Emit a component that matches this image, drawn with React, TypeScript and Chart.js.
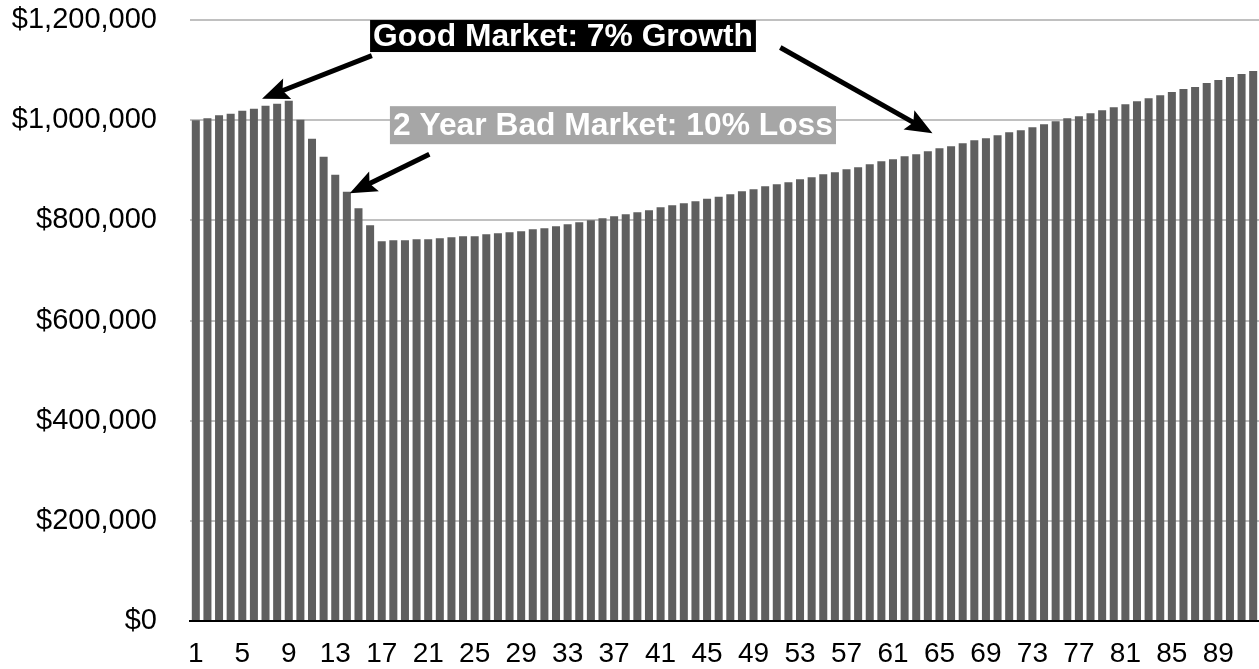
import React, { useEffect, useRef } from 'react';
import { Chart, registerables } from 'chart.js';

Chart.register(...registerables);

// ---- Data ----
const years: string[] = Array.from({ length: 92 }, (_, i) => String(i + 1));

const balances: number[] = [
  1000000, 1004000, 1010000, 1013000, 1019000, 1023000, 1029000, 1033000, 1039000, 1001000,
  963000, 927000, 891000, 857000, 824000, 790000, 758000, 760000, 760000, 762000,
  762000, 764000, 766000, 768000, 768000, 772000, 774000, 776000, 778000, 782000,
  784000, 788000, 792000, 796000, 800000, 804000, 808000, 812000, 816000, 820000,
  826000, 830000, 834000, 838000, 843000, 847000, 852000, 858000, 862000, 868000,
  872000, 876000, 882000, 886000, 892000, 896000, 902000, 906000, 912000, 918000,
  922000, 928000, 932000, 938000, 944000, 948000, 954000, 960000, 964000, 970000,
  976000, 980000, 986000, 992000, 998000, 1004000, 1008000, 1014000, 1020000, 1026000,
  1032000, 1038000, 1044000, 1050000, 1056000, 1062000, 1066000, 1074000, 1080000, 1086000,
  1092000, 1098000,
];

const yMin = 0;
const yMax = 1200000;
const yStep = 200000;
const xLabelEvery = 4;

// Annotation text boxes (anchored in data coordinates: category index, value)
const boxTexts = ['Good Market: 7% Growth', '2 Year Bad Market: 10% Loss'];
const boxIndex = [31.6, 35.9];
const boxValue = [1168000, 990000];
const boxFill = ['#000000', '#a6a6a6'];

// Arrows (tail -> tip), data coordinates
const arrowTailIndex = [15.15, 50.3, 20.1];
const arrowTailValue = [1129000, 1145000, 932000];
const arrowTipIndex = [5.7, 63.4, 13.25];
const arrowTipValue = [1043000, 974000, 854000];

const FONT = '"Liberation Sans", Arial, Helvetica, sans-serif';

function drawArrow(ctx: CanvasRenderingContext2D, x1: number, y1: number, x2: number, y2: number) {
  const ang = Math.atan2(y2 - y1, x2 - x1);
  const headLen = 27;
  const headHalf = 11;
  const bx = x2 - headLen * Math.cos(ang);
  const by = y2 - headLen * Math.sin(ang);
  ctx.strokeStyle = '#000';
  ctx.lineWidth = 5;
  ctx.lineCap = 'butt';
  ctx.beginPath();
  ctx.moveTo(x1, y1);
  ctx.lineTo(bx + 6 * Math.cos(ang), by + 6 * Math.sin(ang));
  ctx.stroke();
  const px = -Math.sin(ang);
  const py = Math.cos(ang);
  const nx = x2 - (headLen - 5) * Math.cos(ang);
  const ny = y2 - (headLen - 5) * Math.sin(ang);
  ctx.fillStyle = '#000';
  ctx.beginPath();
  ctx.moveTo(x2, y2);
  ctx.lineTo(bx + px * headHalf, by + py * headHalf);
  ctx.lineTo(nx, ny);
  ctx.lineTo(bx - px * headHalf, by - py * headHalf);
  ctx.closePath();
  ctx.fill();
}

const annotationPlugin = {
  id: 'marketAnnotations',
  afterDatasetsDraw(chart: any) {
    const { ctx, scales } = chart;
    const xs = scales.x;
    const ys = scales.y;
    ctx.save();
    for (let i = 0; i < arrowTailIndex.length; i++) {
      drawArrow(
        ctx,
        xs.getPixelForValue(arrowTailIndex[i]),
        ys.getPixelForValue(arrowTailValue[i]),
        xs.getPixelForValue(arrowTipIndex[i]),
        ys.getPixelForValue(arrowTipValue[i])
      );
    }
    ctx.font = `bold 31.8px ${FONT}`;
    ctx.textAlign = 'center';
    ctx.textBaseline = 'middle';
    const padY = [5, 8];
    for (let i = 0; i < boxTexts.length; i++) {
      const cx = xs.getPixelForValue(boxIndex[i]);
      const cy = ys.getPixelForValue(boxValue[i]);
      const w = ctx.measureText(boxTexts[i]).width;
      const h = 22 + padY[i] * 2;
      ctx.fillStyle = boxFill[i];
      ctx.fillRect(cx - w / 2 - 3, cy - h / 2, w + 6, h);
      ctx.fillStyle = '#ffffff';
      ctx.fillText(boxTexts[i], cx, cy + 1);
    }
    ctx.restore();
  },
};

export default function App() {
  const canvasRef = useRef<HTMLCanvasElement | null>(null);

  useEffect(() => {
    const canvas = canvasRef.current;
    if (!canvas) return;
    const chart = new Chart(canvas, {
      type: 'bar',
      data: {
        labels: years,
        datasets: [
          {
            data: balances,
            backgroundColor: '#5f5f5f',
            borderWidth: 0,
            barPercentage: 0.69,
            categoryPercentage: 1,
          },
        ],
      },
      options: {
        animation: false,
        responsive: false,
        devicePixelRatio: 1,
        layout: { padding: { top: 20, left: 0, right: 0, bottom: 0 } },
        plugins: {
          legend: { display: false },
          tooltip: { enabled: false },
        },
        scales: {
          x: {
            grid: { display: false, drawTicks: false },
            border: { display: true, color: '#000000', width: 2 },
            afterFit: (scale: any) => {
              scale.height = 48;
              scale.paddingLeft = 0;
              scale.paddingRight = 0;
              scale.paddingTop = 0;
              scale.paddingBottom = 0;
            },
            ticks: {
              autoSkip: false,
              maxRotation: 0,
              minRotation: 0,
              padding: 16,
              color: '#000000',
              font: { family: FONT, size: 28 },
              callback: (_v: any, i: number) => (i % xLabelEvery === 0 ? years[i] : ''),
            },
          },
          y: {
            min: yMin,
            max: yMax,
            grid: {
              drawTicks: false,
              color: (c: any) => (c.tick && c.tick.value === 0 ? 'rgba(0,0,0,0)' : '#c0c0c0'),
              lineWidth: 2,
            },
            border: { display: false },
            afterFit: (scale: any) => {
              scale.width = 190;
              scale.paddingLeft = 0;
              scale.paddingRight = 0;
              scale.paddingTop = 0;
              scale.paddingBottom = 0;
            },
            ticks: {
              stepSize: yStep,
              padding: 33,
              color: '#000000',
              font: { family: FONT, size: 29 },
              callback: (v: any) => '$' + Number(v).toLocaleString('en-US'),
            },
          },
        },
      },
      plugins: [annotationPlugin],
    });
    return () => chart.destroy();
  }, []);

  return (
    <div style={{ position: 'absolute', left: 0, top: 0, width: 1259, height: 669, background: '#fff' }}>
      <canvas ref={canvasRef} width={1259} height={669} style={{ display: 'block' }} />
    </div>
  );
}
